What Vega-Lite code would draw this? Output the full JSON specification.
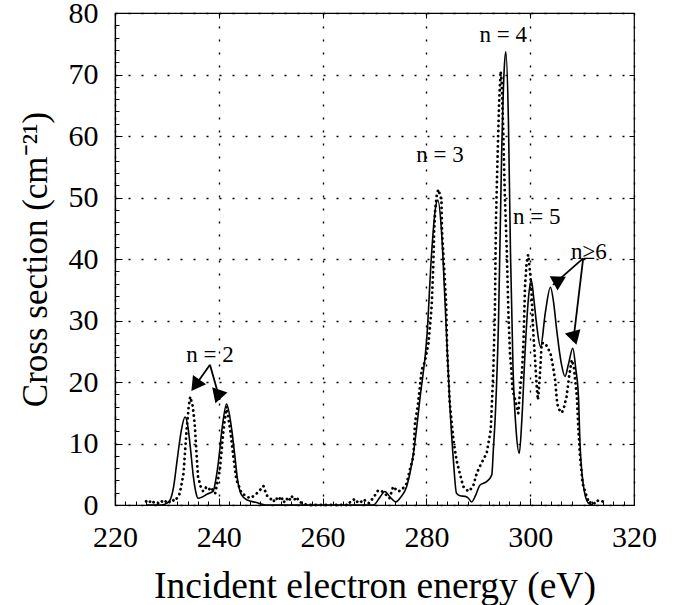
{
  "$schema": "https://vega.github.io/schema/vega-lite/v6.json",
  "width": 519,
  "height": 492,
  "autosize": "none",
  "padding": {"left": 115, "top": 13, "right": 40, "bottom": 100},
  "background": "white",
  "config": {
    "view": {"stroke": "black", "strokeWidth": 1.2},
    "font": "Liberation Serif",
    "style": {"guide-label": {"font": "Liberation Serif"}, "guide-title": {"font": "Liberation Serif"}},
    "axis": {"domainColor": "black", "tickColor": "black", "labelColor": "black", "titleColor": "black", "titleFontWeight": "normal"}
  },
  "datasets": {
    "solid": [
      {"x": 226, "y": 0}, {"x": 229, "y": 0}, {"x": 230, "y": 0.3}, {"x": 230.6, "y": 0.8}, {"x": 231.3, "y": 3}, {"x": 231.9, "y": 6.8}, {"x": 232.4, "y": 10}, {"x": 232.8, "y": 12.2}, {"x": 233.5, "y": 14.3}, {"x": 234.0, "y": 13}, {"x": 234.5, "y": 9.5}, {"x": 235.1, "y": 4.6}, {"x": 235.6, "y": 2}, {"x": 236.0, "y": 1.1}, {"x": 236.8, "y": 1.3}, {"x": 237.8, "y": 1.8}, {"x": 238.9, "y": 2.2}, {"x": 239.4, "y": 4}, {"x": 239.9, "y": 6.8}, {"x": 240.6, "y": 12.2}, {"x": 241.5, "y": 16.4}, {"x": 242.5, "y": 12.2}, {"x": 243.1, "y": 7.9}, {"x": 243.6, "y": 4.2}, {"x": 244.4, "y": 1.6}, {"x": 245.5, "y": 0.8}, {"x": 247.3, "y": 0.4}, {"x": 249, "y": 0}, {"x": 269.8, "y": 0}, {"x": 271, "y": 1.2}, {"x": 272.0, "y": 2.2}, {"x": 273, "y": 1.3}, {"x": 274.1, "y": 0.5}, {"x": 275, "y": 1.2}, {"x": 276.2, "y": 3.0}, {"x": 277.5, "y": 8.4}, {"x": 278.8, "y": 17.6}, {"x": 280.1, "y": 27.4}, {"x": 281.0, "y": 40.9}, {"x": 281.7, "y": 48}, {"x": 282.2, "y": 49.6}, {"x": 282.9, "y": 44.7}, {"x": 283.6, "y": 32.8}, {"x": 284.5, "y": 16.5}, {"x": 285.2, "y": 7.3}, {"x": 285.8, "y": 1.9}, {"x": 286.5, "y": 1.5}, {"x": 287.5, "y": 1.4}, {"x": 288.1, "y": 1.1}, {"x": 288.7, "y": 0.5}, {"x": 289.5, "y": 1.6}, {"x": 290.3, "y": 3.2}, {"x": 291.6, "y": 3.8}, {"x": 292.6, "y": 4.9}, {"x": 292.9, "y": 9}, {"x": 293.3, "y": 15}, {"x": 293.9, "y": 30.1}, {"x": 294.5, "y": 57.2}, {"x": 295.0, "y": 71}, {"x": 295.3, "y": 73.7}, {"x": 295.8, "y": 62.6}, {"x": 296.2, "y": 41}, {"x": 296.7, "y": 22}, {"x": 297.3, "y": 12}, {"x": 297.9, "y": 8.4}, {"x": 298.4, "y": 14}, {"x": 299.0, "y": 24.7}, {"x": 299.6, "y": 33}, {"x": 300.2, "y": 36.6}, {"x": 300.7, "y": 33.5}, {"x": 301.2, "y": 29.6}, {"x": 302.0, "y": 25.7}, {"x": 302.9, "y": 31.2}, {"x": 303.9, "y": 35.4}, {"x": 304.5, "y": 33}, {"x": 305.1, "y": 28.5}, {"x": 306.0, "y": 23}, {"x": 306.7, "y": 20.9}, {"x": 307.4, "y": 23}, {"x": 308.2, "y": 25.5}, {"x": 308.8, "y": 22}, {"x": 309.3, "y": 17.6}, {"x": 309.6, "y": 10}, {"x": 310.2, "y": 3.5}, {"x": 310.7, "y": 1.2}, {"x": 311.2, "y": 0.3}, {"x": 312, "y": 0}
    ],
    "dotted": [
      {"x": 226.0, "y": 0.6}, {"x": 226.5, "y": 0.3}, {"x": 227, "y": 0.8}, {"x": 227.5, "y": 0.4}, {"x": 228, "y": 0.5}, {"x": 228.5, "y": 0.2}, {"x": 229, "y": 0.6}, {"x": 229.5, "y": 0.3}, {"x": 230, "y": 0.8}, {"x": 230.5, "y": 0.5}, {"x": 231, "y": 0.9}, {"x": 231.5, "y": 0.6}, {"x": 232, "y": 1.2}, {"x": 232.5, "y": 1.9}, {"x": 233.2, "y": 5.1}, {"x": 233.8, "y": 12.2}, {"x": 234.2, "y": 16}, {"x": 234.5, "y": 17.6}, {"x": 235.0, "y": 16}, {"x": 235.4, "y": 12.7}, {"x": 235.7, "y": 8.4}, {"x": 236.0, "y": 4.6}, {"x": 236.5, "y": 3.0}, {"x": 237, "y": 2.2}, {"x": 237.5, "y": 2.8}, {"x": 238, "y": 2.4}, {"x": 238.5, "y": 2.9}, {"x": 239, "y": 2.2}, {"x": 239.3, "y": 1.9}, {"x": 239.7, "y": 3.5}, {"x": 240.2, "y": 5.7}, {"x": 240.9, "y": 12.2}, {"x": 241.5, "y": 16.0}, {"x": 242.2, "y": 12.2}, {"x": 242.8, "y": 7.9}, {"x": 243.4, "y": 4.1}, {"x": 244.4, "y": 1.9}, {"x": 245.0, "y": 1.6}, {"x": 246.0, "y": 1.1}, {"x": 247, "y": 1.6}, {"x": 248, "y": 2.5}, {"x": 248.6, "y": 3.1}, {"x": 249.2, "y": 1.6}, {"x": 250, "y": 1.0}, {"x": 250.5, "y": 0.5}, {"x": 251, "y": 1.2}, {"x": 251.5, "y": 0.7}, {"x": 252, "y": 1.4}, {"x": 252.5, "y": 0.4}, {"x": 253, "y": 1.1}, {"x": 253.5, "y": 0.6}, {"x": 254, "y": 1.5}, {"x": 254.5, "y": 0.8}, {"x": 255, "y": 1.3}, {"x": 255.5, "y": 0.5}, {"x": 256.2, "y": 0.3}, {"x": 257, "y": 0}, {"x": 265, "y": 0}, {"x": 265.3, "y": 0.5}, {"x": 266, "y": 0.9}, {"x": 266.5, "y": 0.4}, {"x": 267, "y": 0.8}, {"x": 267.5, "y": 0.5}, {"x": 268, "y": 0.9}, {"x": 268.5, "y": 0.4}, {"x": 269, "y": 0.3}, {"x": 270.1, "y": 1.6}, {"x": 270.7, "y": 2.4}, {"x": 271.3, "y": 2.3}, {"x": 271.8, "y": 2.0}, {"x": 272.3, "y": 1.6}, {"x": 272.9, "y": 1.1}, {"x": 273.6, "y": 3.0}, {"x": 274.5, "y": 2.2}, {"x": 275.2, "y": 2.4}, {"x": 276.2, "y": 3.5}, {"x": 276.8, "y": 5.7}, {"x": 277.5, "y": 7.9}, {"x": 277.8, "y": 13.3}, {"x": 278.4, "y": 16.5}, {"x": 279.1, "y": 22}, {"x": 279.7, "y": 23.3}, {"x": 280.4, "y": 26.3}, {"x": 280.8, "y": 30.1}, {"x": 281.0, "y": 32.2}, {"x": 281.3, "y": 38.2}, {"x": 281.5, "y": 44.7}, {"x": 281.7, "y": 48}, {"x": 282.0, "y": 50.4}, {"x": 282.3, "y": 51.3}, {"x": 282.6, "y": 50.5}, {"x": 282.9, "y": 49.6}, {"x": 283.0, "y": 44.7}, {"x": 283.4, "y": 38.7}, {"x": 283.8, "y": 32.8}, {"x": 284.0, "y": 25.2}, {"x": 284.5, "y": 16.6}, {"x": 285.2, "y": 10.6}, {"x": 285.8, "y": 7.3}, {"x": 286.5, "y": 4.9}, {"x": 287.1, "y": 3.0}, {"x": 288.1, "y": 2.2}, {"x": 289.0, "y": 3.0}, {"x": 289.7, "y": 5.2}, {"x": 290.6, "y": 6.8}, {"x": 291.6, "y": 8.4}, {"x": 292.4, "y": 12.2}, {"x": 292.9, "y": 22}, {"x": 293.2, "y": 31.7}, {"x": 293.4, "y": 46.3}, {"x": 293.7, "y": 56.1}, {"x": 294.0, "y": 65.3}, {"x": 294.3, "y": 70.5}, {"x": 294.5, "y": 69}, {"x": 294.8, "y": 61}, {"x": 295.1, "y": 50.7}, {"x": 295.5, "y": 41}, {"x": 295.8, "y": 31.2}, {"x": 296.1, "y": 24.7}, {"x": 296.4, "y": 21.5}, {"x": 296.6, "y": 18.7}, {"x": 297.1, "y": 17.1}, {"x": 297.7, "y": 14.9}, {"x": 298.0, "y": 18.2}, {"x": 298.4, "y": 21.5}, {"x": 298.7, "y": 26.3}, {"x": 299.0, "y": 35.5}, {"x": 299.3, "y": 39.3}, {"x": 299.6, "y": 40.7}, {"x": 300.0, "y": 37.7}, {"x": 300.3, "y": 33.9}, {"x": 300.6, "y": 27.9}, {"x": 300.9, "y": 24.1}, {"x": 301.3, "y": 18.7}, {"x": 301.5, "y": 17.1}, {"x": 301.8, "y": 20.3}, {"x": 302.0, "y": 23}, {"x": 302.2, "y": 26.3}, {"x": 302.9, "y": 26.3}, {"x": 303.4, "y": 25.5}, {"x": 303.9, "y": 24.7}, {"x": 304.4, "y": 22.5}, {"x": 304.8, "y": 20.3}, {"x": 305.2, "y": 16.5}, {"x": 305.6, "y": 15.5}, {"x": 306.1, "y": 15.0}, {"x": 306.5, "y": 15.8}, {"x": 307.0, "y": 17.6}, {"x": 307.5, "y": 20.9}, {"x": 308.0, "y": 23.6}, {"x": 308.4, "y": 22.5}, {"x": 309.0, "y": 17.6}, {"x": 309.3, "y": 12.2}, {"x": 309.6, "y": 7.9}, {"x": 310.1, "y": 3.5}, {"x": 310.9, "y": 1.3}, {"x": 311.4, "y": 0.3}, {"x": 312, "y": 0.6}, {"x": 312.5, "y": 0.2}, {"x": 313, "y": 0.7}, {"x": 313.4, "y": 0.5}, {"x": 314, "y": 0.6}, {"x": 314.3, "y": 0.3}
    ],
    "labels": [
      {"x": 238.3, "y": 24.4, "text": "n = 2"},
      {"x": 282.6, "y": 56.9, "text": "n = 3"},
      {"x": 294.8, "y": 76.4, "text": "n = 4"},
      {"x": 301.25, "y": 46.8, "text": "n = 5"},
      {"x": 311.3, "y": 41.1, "text": "n≥6"}
    ],
    "arrows": [
      {"id": "a", "x": 238.3, "y": 22.8, "x2": 235.1, "y2": 19.0, "hx": 235.76, "hy": 19.77},
      {"id": "b", "x": 238.3, "y": 22.8, "x2": 240.2, "y2": 17.1, "hx": 239.91, "hy": 18.0},
      {"id": "c", "x": 310.2, "y": 40.1, "x2": 304.4, "y2": 35.8, "hx": 305.3, "hy": 36.4},
      {"id": "d", "x": 310.2, "y": 40.1, "x2": 308.3, "y2": 26.6, "hx": 308.42, "hy": 27.5}
    ]
  },
  "resolve": {"axis": {"x": "independent", "y": "independent"}},
  "layer": [
    {
      "data": {"name": "solid"},
      "mark": {"type": "line", "color": "black", "strokeWidth": 1.6, "interpolate": "monotone"},
      "encoding": {
        "x": {"field": "x", "type": "quantitative", "scale": {"domain": [220, 320], "nice": false, "zero": false},
          "axis": {"orient": "bottom", "values": [220, 240, 260, 280, 300, 320], "title": "Incident electron energy (eV)", "titleFont": "Liberation Serif", "labelFont": "Liberation Serif", "titleFontSize": 37.5, "titleFontWeight": "normal", "titlePadding": 15, "labelFontSize": 30, "labelPadding": 24, "tickSize": -7, "tickWidth": 1, "grid": true, "gridDash": [2, 11], "gridColor": "black", "gridOpacity": 1, "gridWidth": 1.4, "domainWidth": 1.2, "labelFlush": false}},
        "y": {"field": "y", "type": "quantitative", "scale": {"domain": [0, 80], "nice": false},
          "axis": {"orient": "left", "values": [0, 10, 20, 30, 40, 50, 60, 70, 80], "title": "Cross section (cm⁻²¹)", "titleFont": "Liberation Serif", "labelFont": "Liberation Serif", "titleFontSize": 35, "titleFontWeight": "normal", "titlePadding": 15, "labelFontSize": 30, "labelPadding": 24, "tickSize": -7, "tickWidth": 1, "grid": true, "gridDash": [2, 11], "gridColor": "black", "gridOpacity": 1, "gridWidth": 1.4, "domainWidth": 1.2, "labelFlush": false}}
      }
    },
    {
      "data": {"name": "dotted"},
      "mark": {"type": "line", "color": "black", "strokeWidth": 2.8, "strokeCap": "round", "strokeDash": [0.1, 5]},
      "encoding": {
        "x": {"field": "x", "type": "quantitative",
          "axis": {"orient": "bottom", "values": [222, 224, 226, 228, 232, 234, 236, 238, 242, 244, 246, 248, 252, 254, 256, 258, 262, 264, 266, 268, 272, 274, 276, 278, 282, 284, 286, 288, 292, 294, 296, 298, 302, 304, 306, 308, 312, 314, 316, 318], "labels": false, "title": null, "tickSize": -4, "domain": false, "grid": false}},
        "y": {"field": "y", "type": "quantitative",
          "axis": {"orient": "left", "values": [2, 4, 6, 8, 12, 14, 16, 18, 22, 24, 26, 28, 32, 34, 36, 38, 42, 44, 46, 48, 52, 54, 56, 58, 62, 64, 66, 68, 72, 74, 76, 78], "labels": false, "title": null, "tickSize": -4, "domain": false, "grid": false}}
      }
    },
    {
      "data": {"name": "labels"},
      "mark": {"type": "text", "font": "Liberation Serif", "fontSize": 23, "color": "black", "align": "center", "baseline": "middle"},
      "encoding": {
        "x": {"field": "x", "type": "quantitative",
          "axis": {"orient": "top", "values": [240, 260, 280, 300], "labels": false, "title": null, "tickSize": -5, "domain": false, "grid": false}},
        "y": {"field": "y", "type": "quantitative",
          "axis": {"orient": "right", "values": [10, 20, 30, 40, 50, 60, 70], "labels": false, "title": null, "tickSize": -5, "domain": false, "grid": false}},
        "text": {"field": "text"}
      }
    },
    {
      "data": {"name": "arrows"},
      "mark": {"type": "rule", "color": "black", "strokeWidth": 1.8},
      "encoding": {
        "x": {"field": "x", "type": "quantitative", "axis": null},
        "y": {"field": "y", "type": "quantitative", "axis": null},
        "x2": {"field": "x2"},
        "y2": {"field": "y2"}
      }
    },
    {
      "data": {"name": "arrows"},
      "mark": {"type": "point", "shape": "triangle", "filled": true, "color": "black", "size": 260, "opacity": 1},
      "encoding": {
        "x": {"field": "hx", "type": "quantitative", "axis": null},
        "y": {"field": "hy", "type": "quantitative", "axis": null},
        "angle": {"field": "id", "type": "nominal", "scale": {"domain": ["a", "b", "c", "d"], "range": [215.6, 164, 228.3, 186.8]}, "legend": null}
      }
    }
  ]
}
